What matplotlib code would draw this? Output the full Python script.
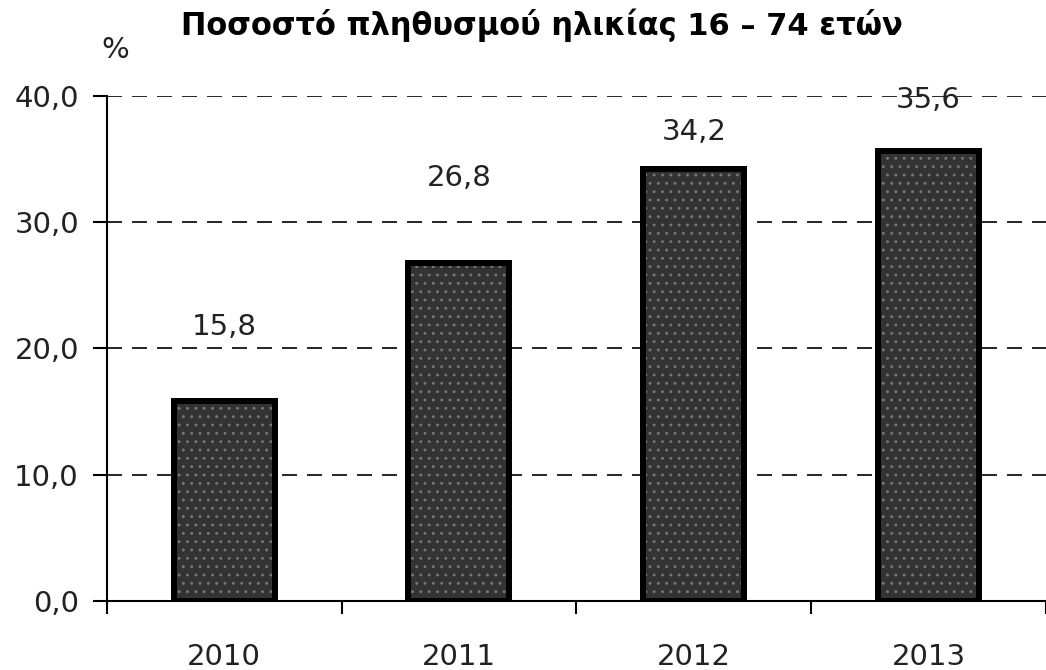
import matplotlib
matplotlib.use('Agg')
from matplotlib import pyplot as plt
import numpy as np

years = ['2010', '2011', '2012', '2013']
values = [15.8, 26.8, 34.2, 35.6]
# how far above each bar its label sits (as in the original)
label_gap = [5.9, 6.7, 2.9, 4.1]

plt.rcParams['font.family'] = ['DejaVu Sans']
plt.rcParams['hatch.linewidth'] = 0.9

fig = plt.figure(figsize=(10.46, 6.70), dpi=100)
ax = fig.add_axes([0.102, 0.103, 0.898, 0.754])

x = np.arange(len(years))
# fill with dotted pattern, then a thick black outline on top
ax.bar(x, values, width=0.43, color='#333333', edgecolor='#777777',
       hatch='..', linewidth=0, zorder=3)
ax.bar(x, values, width=0.43, fill=False, edgecolor='black', linewidth=4.3, zorder=4)

for xi, v, g in zip(x, values, label_gap):
    ax.text(xi, v + g, f'{v:.1f}'.replace('.', ','), ha='center', va='center',
            fontsize=21, color='#222222')

ax.set_xlim(-0.5, 3.5)
ax.set_ylim(0, 40)
ax.set_yticks([0, 10, 20, 30, 40])
ax.set_yticklabels([f'{t:.1f}'.replace('.', ',') for t in [0, 10, 20, 30, 40]])
ax.set_xticks(x)
ax.set_xticklabels(years)
ax.set_xticks(np.arange(-0.5, 4, 1), minor=True)
ax.tick_params(axis='x', which='major', length=0, pad=30, labelsize=21, colors='#222222')
ax.tick_params(axis='x', which='minor', length=9, width=1.5, direction='out', color='black')
ax.tick_params(axis='y', length=10, width=1.5, direction='out', pad=10, labelsize=21,
               colors='#222222')
ax.tick_params(axis='y', color='black')

ax.yaxis.grid(True, linestyle=(0, (9, 6)), color='black', linewidth=1.2, zorder=1)
ax.set_axisbelow(True)
for s in ['top', 'right']:
    ax.spines[s].set_visible(False)
for s in ['left', 'bottom']:
    ax.spines[s].set_linewidth(1.5)
    ax.spines[s].set_zorder(5)

fig.text(0.11, 0.925, '%', fontsize=21, ha='center', va='center', color='#222222')
fig.text(0.518, 0.962, 'Ποσοστό πληθυσμού ηλικίας 16 – 74 ετών', fontsize=22,
         fontweight='bold', ha='center', va='center')

fig.savefig('out.png', dpi=100)
